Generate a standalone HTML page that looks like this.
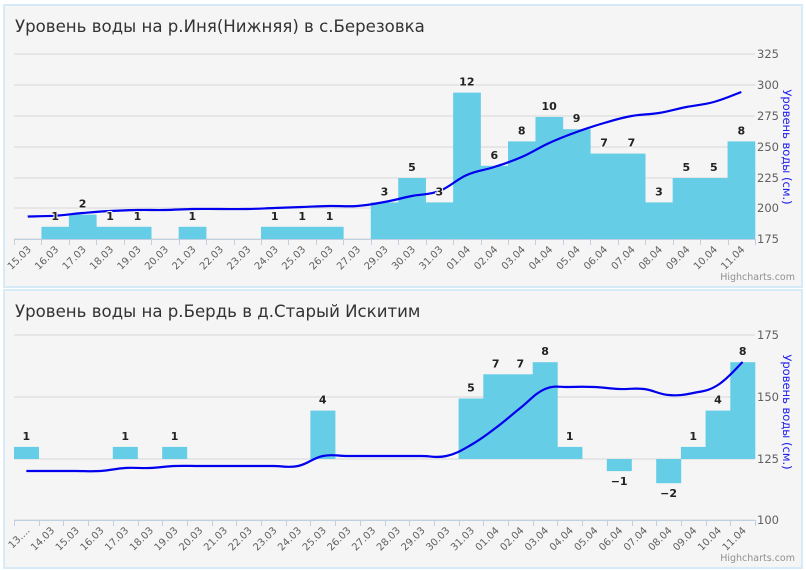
<!DOCTYPE html>
<html><head><meta charset="utf-8"><style>
html,body{margin:0;padding:0;background:#fff;width:806px;height:570px;overflow:hidden}
svg{display:block;font-family:"DejaVu Sans","Liberation Sans",sans-serif}
</style></head><body>
<svg id="s" width="806" height="570" xmlns="http://www.w3.org/2000/svg"></svg>
<script>
const S=document.getElementById('s');const NS='http://www.w3.org/2000/svg';
function el(t,a,txt){const e=document.createElementNS(NS,t);for(const k in a)e.setAttribute(k,a[k]);if(txt!==undefined)e.textContent=txt;S.appendChild(e);return e;}
function spline(pts){let d='M'+pts[0][0]+' '+pts[0][1];for(let i=0;i<pts.length-1;i++){const p0=pts[Math.max(i-1,0)],p1=pts[i],p2=pts[i+1],p3=pts[Math.min(i+2,pts.length-1)];const t=0.2;const c1=[p1[0]+(p2[0]-p0[0])*t,p1[1]+(p2[1]-p0[1])*t],c2=[p2[0]-(p3[0]-p1[0])*t,p2[1]-(p3[1]-p1[1])*t];d+=' C'+c1[0].toFixed(1)+' '+c1[1].toFixed(1)+' '+c2[0].toFixed(1)+' '+c2[1].toFixed(1)+' '+p2[0].toFixed(1)+' '+p2[1].toFixed(1);}return d;}
function chart(o){
 el('rect',{x:4,y:o.top,width:798,height:o.h,fill:'#f5f5f5',stroke:'#d6eaf8','stroke-width':2});
 el('text',{x:15,y:o.top+27,'font-size':16.6,fill:'#333'},o.title);
 o.grid.forEach(g=>{el('line',{x1:14,x2:755,y1:g[0],y2:g[0],stroke:'#d8d8d8','stroke-width':1});el('text',{x:757,y:g[0]+4,'font-size':11.5,fill:'#606060'},g[1]);});
 const n=o.cats.length,w=741/n,X=i=>14+w*(i+0.5);
 o.bars.forEach((v,i)=>{if(!v)return;const h=Math.abs(v)*o.u;const y=v>0?o.base-h:o.base;el('rect',{x:14+w*i,y:y,width:w+0.3,height:h,fill:'#66cde6'});});
 el('path',{d:spline(o.line.map((y,i)=>[X(i),y])),fill:'none',stroke:'#0000ee','stroke-width':2.2});
 o.bars.forEach((v,i)=>{if(!v)return;const h=Math.abs(v)*o.u;const ly=v>0?o.base-h-7:o.base+h+14;el('text',{x:X(i),y:ly,'font-size':11,'font-weight':'bold',fill:'#222','text-anchor':'middle',stroke:'#f5f5f5','stroke-width':2,'paint-order':'stroke'},(v<0?'−':'')+Math.abs(v));});
 el('line',{x1:14,x2:755,y1:o.axy+0.5,y2:o.axy+0.5,stroke:'#c0d0e0'});
 for(let i=0;i<=n;i++){const x=Math.round(14+w*i)+0.5;el('line',{x1:x,x2:x,y1:o.axy,y2:o.axy+6,stroke:'#c0d0e0'});}
 o.cats.forEach((c,i)=>{const x=X(i)+4,y=o.axy+11;el('text',{x:x,y:y,'font-size':10,fill:'#606060','text-anchor':'end',transform:'rotate(-45 '+x+' '+y+')'},c);});
 const cy=o.atc;el('text',{x:783,y:cy,'font-size':11.5,fill:'#2020ee','text-anchor':'middle',transform:'rotate(90 783 '+cy+')'},'Уровень воды (см.)');
 el('text',{x:795,y:o.top+o.h-7,'font-size':9.5,fill:'#909090','text-anchor':'end'},'Highcharts.com');
}
const c1=['15.03','16.03','17.03','18.03','19.03','20.03','21.03','22.03','23.03','24.03','25.03','26.03','27.03','29.03','30.03','31.03','01.04','02.04','03.04','04.04','05.04','06.04','07.04','08.04','09.04','10.04','11.04'];
chart({top:5,h:282,title:'Уровень воды на р.Иня(Нижняя) в с.Березовка',
 grid:[[54,'325'],[85,'300'],[116,'275'],[147,'250'],[178,'225'],[208,'200'],[239,'175']],
 cats:c1,base:239,axy:239,u:12.2,atc:147,
 bars:[0,1,2,1,1,0,1,0,0,1,1,1,0,3,5,3,12,6,8,10,9,7,7,3,5,5,8],
 line:[216.5,215.7,213,211,210,210,209,209,209,208,207,206,206,202,196,191,175,167,157,143,132,123,116,113,107,102,92]});
const c2=['13....','14.03','15.03','16.03','17.03','18.03','19.03','20.03','21.03','22.03','23.03','24.03','25.03','26.03','27.03','28.03','29.03','30.03','31.03','01.04','02.04','03.04','04.04','05.04','06.04','07.04','08.04','09.04','10.04','11.04'];
chart({top:290,h:278,title:'Уровень воды на р.Бердь в д.Старый Искитим',
 grid:[[335,'175'],[397,'150'],[459,'125'],[520,'100']],
 cats:c2,base:459,axy:520,u:12.1,atc:412,
 bars:[1,0,0,0,1,0,1,0,0,0,0,0,4,0,0,0,0,0,5,7,7,8,1,0,-1,0,-2,1,4,8],
 line:[471,471,471,471,468,468,466,466,466,466,466,466,456,456,456,456,456,456,445,428,408,389,387,387,389,389,395,393,385,362]});
</script>
</body></html>
